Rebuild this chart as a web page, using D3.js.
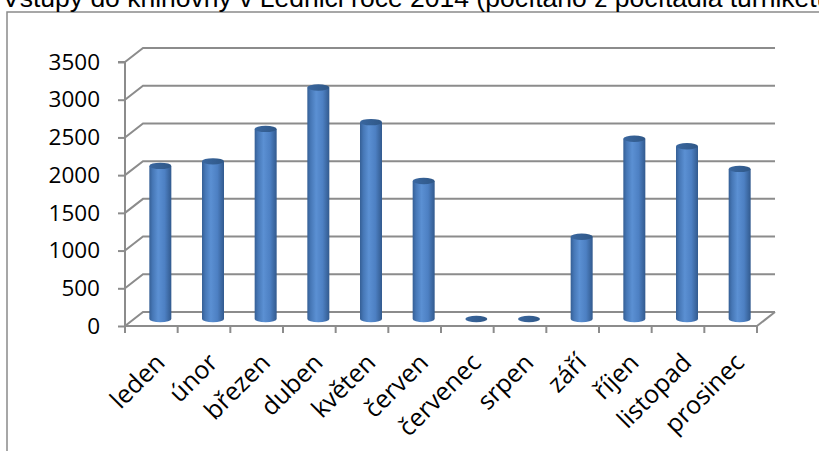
<!DOCTYPE html>
<html>
<head>
<meta charset="utf-8">
<script src="https://cdn.jsdelivr.net/npm/d3@7"></script>
<style>
  body { margin: 0; background: #fff; }
  svg { display: block; }
</style>
</head>
<body>
<svg id="chart"></svg>
<script>
// data
const months = ['leden', 'únor', 'březen', 'duben', 'květen', 'červen',
                'červenec', 'srpen', 'září', 'říjen', 'listopad', 'prosinec'];
const visits = [2030, 2090, 2520, 3070, 2610, 1830, 0, 0, 1090, 2390, 2290, 1990];
const yTicks = [0, 500, 1000, 1500, 2000, 2500, 3000, 3500];
const title = 'Vstupy do knihovny v Lednici roce 2014 (počítáno z počítadla turniketu)';

const width = 819, height = 451;
const depthX = 18, depthY = -14;   // 3d offset of back wall

const svg = d3.select('#chart')
    .attr('width', width)
    .attr('height', height);

// outer frame (goes off the picture on right/bottom)
svg.append('rect')
    .attr('x', 7).attr('y', 12)
    .attr('width', 900).attr('height', 600)
    .attr('fill', 'none')
    .attr('stroke', '#8a8a8a')
    .attr('stroke-width', 1.5);

// title sits partly above the picture, like in the original
svg.append('text')
    .attr('x', 2).attr('y', 7)
    .attr('font-family', 'Liberation Sans, Arial, sans-serif')
    .attr('font-size', 26.5)
    .attr('fill', '#000')
    .text(title);

const x = d3.scaleBand()
    .domain(months)
    .range([125, 757]);

const y = d3.scaleLinear()
    .domain([0, 3500])
    .range([326, 62]);

const defs = svg.append('defs');
const grad = defs.append('linearGradient').attr('id', 'cyl');
[['0%', '#355f95'], ['15%', '#4677b6'], ['40%', '#5b90d3'], ['70%', '#4d80c3'], ['100%', '#325a8e']]
    .forEach(s => grad.append('stop').attr('offset', s[0]).attr('stop-color', s[1]));
const gradTop = defs.append('linearGradient').attr('id', 'cylTop');
[['0%', '#3a679f'], ['100%', '#2f5787']]
    .forEach(s => gradTop.append('stop').attr('offset', s[0]).attr('stop-color', s[1]));

const grid = svg.append('g')
    .attr('stroke', '#8c8c8c')
    .attr('stroke-width', 2)
    .attr('fill', 'none');

// back wall lines + left wall diagonals
grid.selectAll('.gl')
    .data(yTicks)
    .join('path')
    .attr('class', 'gl')
    .attr('d', d => `M${x.range()[0]},${y(d)} L${x.range()[0] + depthX},${y(d) + depthY} L${x.range()[1] + depthX},${y(d) + depthY}`);

// floor right edge
grid.append('line')
    .attr('x1', x.range()[1]).attr('y1', y(0))
    .attr('x2', x.range()[1] + depthX).attr('y2', y(0) + depthY);

// category tick marks between bars
const bounds = months.map(m => x(m)).concat([x.range()[1]]);
grid.selectAll('.xt')
    .data(bounds)
    .join('line')
    .attr('class', 'xt')
    .attr('x1', d => d).attr('x2', d => d)
    .attr('y1', y(0)).attr('y2', y(0) + 7);

// y axis
const gy = svg.append('g')
    .attr('transform', `translate(${x.range()[0]},0)`)
    .call(d3.axisLeft(y).tickValues(yTicks).tickSize(7).tickPadding(18).tickFormat(d3.format('d')));
gy.selectAll('path, line').attr('stroke', '#8c8c8c').attr('stroke-width', 2);
gy.select('.domain').attr('d', `M-7,${y(3500)}H0V${y(0)}`);
gy.selectAll('text')
    .attr('font-family', 'Open Sans, sans-serif')
    .attr('font-size', 22.5)
    .attr('fill', '#000');

// x axis line + labels
const gx = svg.append('g')
    .attr('transform', `translate(0,${y(0)})`)
    .call(d3.axisBottom(x).tickSize(0));
gx.select('.domain').attr('stroke', '#8c8c8c').attr('stroke-width', 2)
    .attr('d', `M${x.range()[0]},0H${x.range()[1]}`);
gx.selectAll('text')
    .attr('font-family', 'Open Sans, sans-serif')
    .attr('font-size', 25)
    .attr('fill', '#000')
    .attr('text-anchor', 'end')
    .attr('dy', 0)
    .attr('transform', 'translate(13,36) rotate(-45)');

// cylinders at half depth
const r = 11, ry = 3.2;
const cx = d => x(d) + x.bandwidth() / 2 + depthX / 2;
const cy = v => y(v) + depthY / 2;

const bars = svg.append('g')
    .selectAll('g')
    .data(months.map((m, i) => ({ m: m, v: visits[i] })))
    .join('g');

bars.filter(d => d.v > 0)
    .append('path')
    .attr('d', d => {
        const xc = cx(d.m), top = cy(d.v), bot = cy(0);
        return `M${xc - r},${top} L${xc - r},${bot} A${r},${ry} 0 0 0 ${xc + r},${bot} L${xc + r},${top} Z`;
    })
    .attr('fill', 'url(#cyl)');

bars.append('ellipse')
    .attr('cx', d => cx(d.m))
    .attr('cy', d => cy(d.v))
    .attr('rx', r)
    .attr('ry', ry)
    .attr('fill', 'url(#cylTop)');
</script>
</body>
</html>
